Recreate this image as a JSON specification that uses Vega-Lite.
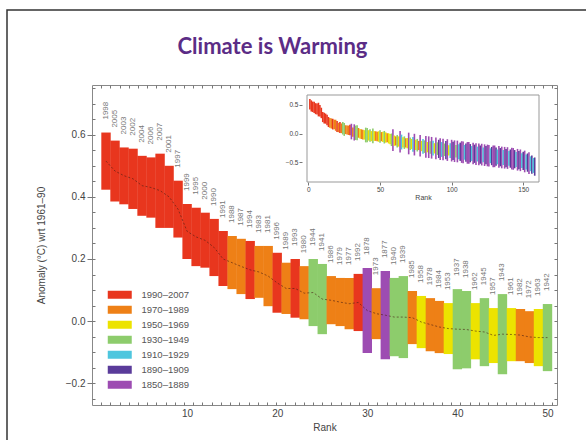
{
 "$schema": "https://vega.github.io/schema/vega-lite/v6.json",
 "width": 465,
 "height": 320,
 "autosize": {"type": "none"},
 "padding": {"left": 92, "top": 85, "right": 29, "bottom": 35},
 "background": "white",
 "title": {"text": "Climate is Warming", "font": "Lato", "fontSize": 22, "fontWeight": "bold", "color": "#5B2C86", "anchor": "middle", "frame": "group", "baseline": "middle", "offset": -60, "dx": -52},
 "config": {
  "view": {"stroke": "#888", "strokeWidth": 1},
  "axis": {"labelFont": "Liberation Sans", "titleFont": "Liberation Sans", "labelColor": "#444", "titleColor": "#444", "tickColor": "#777", "domain": false, "grid": false, "titleFontWeight": "normal"}
 },
 "datasets": {
  "temps": [
   {"rank":1,"lo":0.423,"hi":0.607,"mid":0.515,"g":"1990–2007","year":"1998"},
   {"rank":2,"lo":0.385,"hi":0.581,"mid":0.483,"g":"1990–2007","year":"2005"},
   {"rank":3,"lo":0.376,"hi":0.559,"mid":0.468,"g":"1990–2007","year":"2003"},
   {"rank":4,"lo":0.361,"hi":0.555,"mid":0.458,"g":"1990–2007","year":"2002"},
   {"rank":5,"lo":0.339,"hi":0.532,"mid":0.436,"g":"1990–2007","year":"2004"},
   {"rank":6,"lo":0.333,"hi":0.527,"mid":0.43,"g":"1990–2007","year":"2006"},
   {"rank":7,"lo":0.300,"hi":0.539,"mid":0.42,"g":"1990–2007","year":"2007"},
   {"rank":8,"lo":0.300,"hi":0.500,"mid":0.40,"g":"1990–2007","year":"2001"},
   {"rank":9,"lo":0.269,"hi":0.452,"mid":0.36,"g":"1990–2007","year":"1997"},
   {"rank":10,"lo":0.200,"hi":0.377,"mid":0.289,"g":"1990–2007","year":"1999"},
   {"rank":11,"lo":0.177,"hi":0.365,"mid":0.271,"g":"1990–2007","year":"1995"},
   {"rank":12,"lo":0.172,"hi":0.349,"mid":0.26,"g":"1990–2007","year":"2000"},
   {"rank":13,"lo":0.145,"hi":0.329,"mid":0.237,"g":"1990–2007","year":"1990"},
   {"rank":14,"lo":0.113,"hi":0.290,"mid":0.20,"g":"1990–2007","year":"1991"},
   {"rank":15,"lo":0.103,"hi":0.274,"mid":0.188,"g":"1970–1989","year":"1988"},
   {"rank":16,"lo":0.087,"hi":0.265,"mid":0.176,"g":"1970–1989","year":"1987"},
   {"rank":17,"lo":0.071,"hi":0.258,"mid":0.165,"g":"1990–2007","year":"1994"},
   {"rank":18,"lo":0.075,"hi":0.242,"mid":0.158,"g":"1970–1989","year":"1983"},
   {"rank":19,"lo":0.048,"hi":0.242,"mid":0.145,"g":"1970–1989","year":"1981"},
   {"rank":20,"lo":0.027,"hi":0.220,"mid":0.123,"g":"1990–2007","year":"1996"},
   {"rank":21,"lo":0.023,"hi":0.188,"mid":0.105,"g":"1970–1989","year":"1989"},
   {"rank":22,"lo":0.011,"hi":0.200,"mid":0.105,"g":"1990–2007","year":"1993"},
   {"rank":23,"lo":0.006,"hi":0.177,"mid":0.09,"g":"1970–1989","year":"1980"},
   {"rank":24,"lo":-0.016,"hi":0.200,"mid":0.092,"g":"1930–1949","year":"1944"},
   {"rank":25,"lo":-0.042,"hi":0.184,"mid":0.071,"g":"1930–1949","year":"1941"},
   {"rank":26,"lo":-0.010,"hi":0.145,"mid":0.067,"g":"1970–1989","year":"1986"},
   {"rank":27,"lo":-0.016,"hi":0.139,"mid":0.061,"g":"1970–1989","year":"1979"},
   {"rank":28,"lo":-0.026,"hi":0.139,"mid":0.056,"g":"1970–1989","year":"1977"},
   {"rank":29,"lo":-0.032,"hi":0.152,"mid":0.06,"g":"1990–2007","year":"1992"},
   {"rank":30,"lo":-0.103,"hi":0.171,"mid":0.034,"g":"1850–1889","year":"1878"},
   {"rank":31,"lo":-0.058,"hi":0.106,"mid":0.024,"g":"1970–1989","year":"1973"},
   {"rank":32,"lo":-0.123,"hi":0.161,"mid":0.019,"g":"1850–1889","year":"1877"},
   {"rank":33,"lo":-0.113,"hi":0.139,"mid":0.013,"g":"1930–1949","year":"1940"},
   {"rank":34,"lo":-0.119,"hi":0.145,"mid":0.013,"g":"1930–1949","year":"1939"},
   {"rank":35,"lo":-0.074,"hi":0.097,"mid":0.011,"g":"1970–1989","year":"1985"},
   {"rank":36,"lo":-0.087,"hi":0.081,"mid":-0.003,"g":"1950–1969","year":"1958"},
   {"rank":37,"lo":-0.097,"hi":0.074,"mid":-0.011,"g":"1970–1989","year":"1978"},
   {"rank":38,"lo":-0.103,"hi":0.065,"mid":-0.019,"g":"1970–1989","year":"1984"},
   {"rank":39,"lo":-0.106,"hi":0.058,"mid":-0.024,"g":"1950–1969","year":"1953"},
   {"rank":40,"lo":-0.155,"hi":0.103,"mid":-0.026,"g":"1930–1949","year":"1937"},
   {"rank":41,"lo":-0.152,"hi":0.097,"mid":-0.027,"g":"1930–1949","year":"1938"},
   {"rank":42,"lo":-0.123,"hi":0.058,"mid":-0.032,"g":"1950–1969","year":"1962"},
   {"rank":43,"lo":-0.145,"hi":0.074,"mid":-0.035,"g":"1930–1949","year":"1945"},
   {"rank":44,"lo":-0.135,"hi":0.042,"mid":-0.046,"g":"1950–1969","year":"1957"},
   {"rank":45,"lo":-0.171,"hi":0.087,"mid":-0.042,"g":"1930–1949","year":"1943"},
   {"rank":46,"lo":-0.129,"hi":0.042,"mid":-0.043,"g":"1950–1969","year":"1961"},
   {"rank":47,"lo":-0.129,"hi":0.039,"mid":-0.045,"g":"1970–1989","year":"1982"},
   {"rank":48,"lo":-0.135,"hi":0.032,"mid":-0.051,"g":"1970–1989","year":"1972"},
   {"rank":49,"lo":-0.145,"hi":0.039,"mid":-0.053,"g":"1950–1969","year":"1963"},
   {"rank":50,"lo":-0.161,"hi":0.055,"mid":-0.053,"g":"1930–1949","year":"1942"},
   {"rank":51,"lo":-0.135,"hi":0.025,"g":"1970–1989"},
   {"rank":52,"lo":-0.15,"hi":0.03,"g":"1950–1969"},
   {"rank":53,"lo":-0.175,"hi":0.045,"g":"1930–1949"},
   {"rank":54,"lo":-0.16,"hi":0.02,"g":"1950–1969"},
   {"rank":55,"lo":-0.155,"hi":0.005,"g":"1970–1989"},
   {"rank":56,"lo":-0.175,"hi":0.005,"g":"1950–1969"},
   {"rank":57,"lo":-0.19,"hi":-0.01,"g":"1950–1969"},
   {"rank":58,"lo":-0.22,"hi":0.0,"g":"1930–1949"},
   {"rank":59,"lo":-0.305,"hi":0.075,"g":"1850–1889"},
   {"rank":60,"lo":-0.215,"hi":-0.035,"g":"1950–1969"},
   {"rank":61,"lo":-0.21,"hi":-0.05,"g":"1970–1989"},
   {"rank":62,"lo":-0.245,"hi":-0.025,"g":"1930–1949"},
   {"rank":63,"lo":-0.23,"hi":-0.05,"g":"1950–1969"},
   {"rank":64,"lo":-0.335,"hi":0.045,"g":"1850–1889"},
   {"rank":65,"lo":-0.28,"hi":-0.02,"g":"1910–1929"},
   {"rank":66,"lo":-0.245,"hi":-0.065,"g":"1950–1969"},
   {"rank":67,"lo":-0.27,"hi":-0.05,"g":"1930–1949"},
   {"rank":68,"lo":-0.245,"hi":-0.085,"g":"1970–1989"},
   {"rank":69,"lo":-0.26,"hi":-0.08,"g":"1950–1969"},
   {"rank":70,"lo":-0.365,"hi":0.015,"g":"1850–1889"},
   {"rank":71,"lo":-0.29,"hi":-0.07,"g":"1930–1949"},
   {"rank":72,"lo":-0.275,"hi":-0.095,"g":"1950–1969"},
   {"rank":73,"lo":-0.32,"hi":-0.06,"g":"1910–1929"},
   {"rank":74,"lo":-0.385,"hi":-0.005,"g":"1850–1889"},
   {"rank":75,"lo":-0.29,"hi":-0.11,"g":"1950–1969"},
   {"rank":76,"lo":-0.315,"hi":-0.095,"g":"1930–1949"},
   {"rank":77,"lo":-0.29,"hi":-0.13,"g":"1970–1989"},
   {"rank":78,"lo":-0.405,"hi":-0.025,"g":"1850–1889"},
   {"rank":79,"lo":-0.31,"hi":-0.13,"g":"1950–1969"},
   {"rank":80,"lo":-0.355,"hi":-0.095,"g":"1910–1929"},
   {"rank":81,"lo":-0.34,"hi":-0.12,"g":"1930–1949"},
   {"rank":82,"lo":-0.425,"hi":-0.045,"g":"1850–1889"},
   {"rank":83,"lo":-0.33,"hi":-0.15,"g":"1950–1969"},
   {"rank":84,"lo":-0.43,"hi":-0.05,"g":"1850–1889"},
   {"rank":85,"lo":-0.355,"hi":-0.135,"g":"1930–1949"},
   {"rank":86,"lo":-0.44,"hi":-0.06,"g":"1850–1889"},
   {"rank":87,"lo":-0.385,"hi":-0.125,"g":"1910–1929"},
   {"rank":88,"lo":-0.35,"hi":-0.17,"g":"1950–1969"},
   {"rank":89,"lo":-0.45,"hi":-0.07,"g":"1850–1889"},
   {"rank":90,"lo":-0.375,"hi":-0.155,"g":"1930–1949"},
   {"rank":91,"lo":-0.43,"hi":-0.11,"g":"1890–1909"},
   {"rank":92,"lo":-0.465,"hi":-0.085,"g":"1850–1889"},
   {"rank":93,"lo":-0.41,"hi":-0.15,"g":"1910–1929"},
   {"rank":94,"lo":-0.47,"hi":-0.09,"g":"1850–1889"},
   {"rank":95,"lo":-0.395,"hi":-0.175,"g":"1930–1949"},
   {"rank":96,"lo":-0.45,"hi":-0.13,"g":"1890–1909"},
   {"rank":97,"lo":-0.48,"hi":-0.10,"g":"1850–1889"},
   {"rank":98,"lo":-0.385,"hi":-0.205,"g":"1950–1969"},
   {"rank":99,"lo":-0.43,"hi":-0.17,"g":"1910–1929"},
   {"rank":100,"lo":-0.49,"hi":-0.11,"g":"1850–1889"},
   {"rank":101,"lo":-0.465,"hi":-0.145,"g":"1890–1909"},
   {"rank":102,"lo":-0.50,"hi":-0.12,"g":"1850–1889"},
   {"rank":103,"lo":-0.42,"hi":-0.20,"g":"1930–1949"},
   {"rank":104,"lo":-0.505,"hi":-0.125,"g":"1850–1889"},
   {"rank":105,"lo":-0.45,"hi":-0.19,"g":"1910–1929"},
   {"rank":106,"lo":-0.48,"hi":-0.16,"g":"1890–1909"},
   {"rank":107,"lo":-0.515,"hi":-0.135,"g":"1850–1889"},
   {"rank":108,"lo":-0.52,"hi":-0.14,"g":"1850–1889"},
   {"rank":109,"lo":-0.46,"hi":-0.20,"g":"1910–1929"},
   {"rank":110,"lo":-0.495,"hi":-0.175,"g":"1890–1909"},
   {"rank":111,"lo":-0.53,"hi":-0.15,"g":"1850–1889"},
   {"rank":112,"lo":-0.53,"hi":-0.15,"g":"1850–1889"},
   {"rank":113,"lo":-0.505,"hi":-0.185,"g":"1890–1909"},
   {"rank":114,"lo":-0.48,"hi":-0.22,"g":"1910–1929"},
   {"rank":115,"lo":-0.54,"hi":-0.16,"g":"1850–1889"},
   {"rank":116,"lo":-0.515,"hi":-0.195,"g":"1890–1909"},
   {"rank":117,"lo":-0.55,"hi":-0.17,"g":"1850–1889"},
   {"rank":118,"lo":-0.49,"hi":-0.23,"g":"1910–1929"},
   {"rank":119,"lo":-0.555,"hi":-0.175,"g":"1850–1889"},
   {"rank":120,"lo":-0.53,"hi":-0.21,"g":"1890–1909"},
   {"rank":121,"lo":-0.56,"hi":-0.18,"g":"1850–1889"},
   {"rank":122,"lo":-0.505,"hi":-0.245,"g":"1910–1929"},
   {"rank":123,"lo":-0.57,"hi":-0.19,"g":"1850–1889"},
   {"rank":124,"lo":-0.54,"hi":-0.22,"g":"1890–1909"},
   {"rank":125,"lo":-0.575,"hi":-0.195,"g":"1850–1889"},
   {"rank":126,"lo":-0.58,"hi":-0.20,"g":"1850–1889"},
   {"rank":127,"lo":-0.52,"hi":-0.26,"g":"1910–1929"},
   {"rank":128,"lo":-0.555,"hi":-0.235,"g":"1890–1909"},
   {"rank":129,"lo":-0.59,"hi":-0.21,"g":"1850–1889"},
   {"rank":130,"lo":-0.59,"hi":-0.21,"g":"1850–1889"},
   {"rank":131,"lo":-0.565,"hi":-0.245,"g":"1890–1909"},
   {"rank":132,"lo":-0.54,"hi":-0.28,"g":"1910–1929"},
   {"rank":133,"lo":-0.60,"hi":-0.22,"g":"1850–1889"},
   {"rank":134,"lo":-0.575,"hi":-0.255,"g":"1890–1909"},
   {"rank":135,"lo":-0.61,"hi":-0.23,"g":"1850–1889"},
   {"rank":136,"lo":-0.55,"hi":-0.29,"g":"1910–1929"},
   {"rank":137,"lo":-0.615,"hi":-0.235,"g":"1850–1889"},
   {"rank":138,"lo":-0.59,"hi":-0.27,"g":"1890–1909"},
   {"rank":139,"lo":-0.62,"hi":-0.24,"g":"1850–1889"},
   {"rank":140,"lo":-0.565,"hi":-0.305,"g":"1910–1929"},
   {"rank":141,"lo":-0.60,"hi":-0.28,"g":"1890–1909"},
   {"rank":142,"lo":-0.63,"hi":-0.25,"g":"1850–1889"},
   {"rank":143,"lo":-0.635,"hi":-0.255,"g":"1850–1889"},
   {"rank":144,"lo":-0.61,"hi":-0.29,"g":"1890–1909"},
   {"rank":145,"lo":-0.585,"hi":-0.325,"g":"1910–1929"},
   {"rank":146,"lo":-0.65,"hi":-0.27,"g":"1850–1889"},
   {"rank":147,"lo":-0.625,"hi":-0.305,"g":"1890–1909"},
   {"rank":148,"lo":-0.66,"hi":-0.28,"g":"1850–1889"},
   {"rank":149,"lo":-0.605,"hi":-0.345,"g":"1910–1929"},
   {"rank":150,"lo":-0.64,"hi":-0.32,"g":"1890–1909"},
   {"rank":151,"lo":-0.68,"hi":-0.30,"g":"1850–1889"},
   {"rank":152,"lo":-0.63,"hi":-0.37,"g":"1910–1929"},
   {"rank":153,"lo":-0.67,"hi":-0.35,"g":"1890–1909"},
   {"rank":154,"lo":-0.71,"hi":-0.33,"g":"1850–1889"},
   {"rank":155,"lo":-0.66,"hi":-0.40,"g":"1910–1929"},
   {"rank":156,"lo":-0.705,"hi":-0.385,"g":"1890–1909"},
   {"rank":157,"lo":-0.69,"hi":-0.43,"g":"1910–1929"},
   {"rank":158,"lo":-0.74,"hi":-0.42,"g":"1890–1909"}
  ]
 },
 "layer": [
  {
   "data": {"values": [{}]},
   "mark": {"type": "rect", "filled": false, "stroke": "#333", "strokeWidth": 1.5},
   "encoding": {
    "x": {"datum": 0, "type": "quantitative", "scale": {"domain": [0, 1], "range": [-85, 520], "nice": false, "zero": false}, "axis": null},
    "x2": {"datum": 1},
    "y": {"datum": 0, "type": "quantitative", "scale": {"domain": [0, 1], "range": [-75, 400], "nice": false, "zero": false}, "axis": null},
    "y2": {"datum": 1}
   }
  },
  {
   "data": {"name": "temps"},
   "transform": [{"filter": "datum.rank <= 50"}],
   "encoding": {
    "x": {"field": "rank", "type": "quantitative", "scale": {"domain": [0, 50.5], "nice": false, "zero": false},
          "axis": {"orient": "bottom", "values": [10, 20, 30, 40, 50], "tickSize": 0, "labelPadding": 3, "labelFontSize": 10, "title": "Rank", "titleFontSize": 10, "titlePadding": 4}}
   },
   "layer": [
    {
     "mark": {"type": "bar", "width": 9.4},
     "encoding": {
      "y": {"field": "lo", "type": "quantitative", "scale": {"domain": [-0.27, 0.76], "nice": false, "zero": false},
            "axis": {"orient": "left", "values": [-0.2, 0, 0.2, 0.4, 0.6], "format": ".1f", "tickSize": 5, "labelPadding": 2, "labelFontSize": 10, "title": "Anomaly (°C) wrt 1961–90", "titleFontSize": 10, "titlePadding": 19}},
      "y2": {"field": "hi"},
      "color": {"field": "g", "type": "nominal",
                "scale": {"domain": ["1990–2007", "1970–1989", "1950–1969", "1930–1949", "1910–1929", "1890–1909", "1850–1889"],
                          "range": ["#E8361E", "#EE8016", "#ECE300", "#8DCC6C", "#4EC6DE", "#5A3B9A", "#9D4CB2"]},
                "legend": {"orient": "none", "legendX": 23, "legendY": 205, "title": null, "padding": 0,
                           "symbolType": "M-3,-1H3V1H-3Z", "symbolSize": 64, "symbolStrokeWidth": 0, "symbolOpacity": 1,
                           "labelOffset": 17, "labelFont": "Liberation Sans", "labelFontSize": 9.5, "labelColor": "#555", "rowPadding": 4}}
     }
    },
    {
     "mark": {"type": "line", "strokeDash": [2, 2], "color": "#4a1e14", "strokeWidth": 1, "opacity": 0.6},
     "encoding": {"y": {"field": "mid", "type": "quantitative"}}
    },
    {
     "mark": {"type": "text", "angle": 270, "align": "left", "baseline": "middle", "dx": 13, "fontSize": 8, "font": "Liberation Sans", "color": "#777"},
     "encoding": {"y": {"field": "hi", "type": "quantitative"}, "text": {"field": "year"}}
    }
   ]
  },
  {
   "data": {"values": [{}]},
   "mark": {"type": "point", "opacity": 0},
   "encoding": {
    "x": {"datum": 1, "type": "quantitative", "scale": {"domain": [0, 50.5], "nice": false, "zero": false},
          "axis": {"orient": "bottom", "values": [1,2,3,4,5,6,7,8,9,10,11,12,13,14,15,16,17,18,19,20,21,22,23,24,25,26,27,28,29,30,31,32,33,34,35,36,37,38,39,40,41,42,43,44,45,46,47,48,49,50], "tickSize": -3, "labels": false, "title": null}},
    "y": {"datum": 0, "type": "quantitative", "scale": {"domain": [-0.27, 0.76], "nice": false, "zero": false},
          "axis": {"orient": "left", "values": [-0.25,-0.2,-0.15,-0.1,-0.05,0,0.05,0.1,0.15,0.2,0.25,0.3,0.35,0.4,0.45,0.5,0.55,0.6,0.65,0.7,0.75], "tickSize": -3, "labels": false, "title": null}}
   }
  },
  {
   "data": {"values": [{}]},
   "mark": {"type": "point", "opacity": 0},
   "encoding": {
    "x": {"datum": 1, "type": "quantitative", "scale": {"domain": [0, 50.5], "nice": false, "zero": false},
          "axis": {"orient": "top", "values": [1,2,3,4,5,6,7,8,9,10,11,12,13,14,15,16,17,18,19,20,21,22,23,24,25,26,27,28,29,30,31,32,33,34,35,36,37,38,39,40,41,42,43,44,45,46,47,48,49,50], "tickSize": -3, "labels": false, "title": null}},
    "y": {"datum": 0, "type": "quantitative", "scale": {"domain": [-0.27, 0.76], "nice": false, "zero": false},
          "axis": {"orient": "right", "values": [-0.25,-0.2,-0.15,-0.1,-0.05,0,0.05,0.1,0.15,0.2,0.25,0.3,0.35,0.4,0.45,0.5,0.55,0.6,0.65,0.7,0.75], "tickSize": -3, "labels": false, "title": null}}
   }
  },
  {
   "encoding": {
    "x": {"type": "quantitative", "scale": {"domain": [-1, 161], "range": [210, 452], "nice": false, "zero": false},
          "axis": {"orient": "bottom", "offset": -223, "values": [0, 50, 100, 150], "tickSize": 3, "labelPadding": 1, "labelFontSize": 6.5, "title": "Rank", "titleFontSize": 7, "titlePadding": 1}},
    "y": {"type": "quantitative", "scale": {"domain": [-0.85, 0.675], "range": [97, 10], "nice": false, "zero": false},
          "axis": {"orient": "left", "offset": -210, "values": [-0.5, 0, 0.5], "format": ".1f", "tickSize": 3, "labelPadding": 1, "labelFontSize": 6.5, "title": null}}
   },
   "layer": [
    {
     "data": {"values": [{}]},
     "mark": {"type": "rect", "fill": "white", "stroke": "#999", "strokeWidth": 1},
     "encoding": {"x": {"datum": -1, "type": "quantitative"}, "x2": {"datum": 161}, "y": {"datum": -0.85, "type": "quantitative"}, "y2": {"datum": 0.675}}
    },
    {
     "data": {"name": "temps"},
     "mark": {"type": "bar", "width": 1.6},
     "encoding": {
      "x": {"field": "rank", "type": "quantitative"},
      "y": {"field": "lo", "type": "quantitative"},
      "y2": {"field": "hi"},
      "color": {"field": "g", "type": "nominal", "legend": null,
                "scale": {"domain": ["1990–2007", "1970–1989", "1950–1969", "1930–1949", "1910–1929", "1890–1909", "1850–1889"],
                          "range": ["#E8361E", "#EE8016", "#ECE300", "#8DCC6C", "#4EC6DE", "#5A3B9A", "#9D4CB2"]}}
     }
    }
   ]
  }
 ],
 "resolve": {"scale": {"x": "independent", "y": "independent"}, "axis": {"x": "independent", "y": "independent"}}
}
